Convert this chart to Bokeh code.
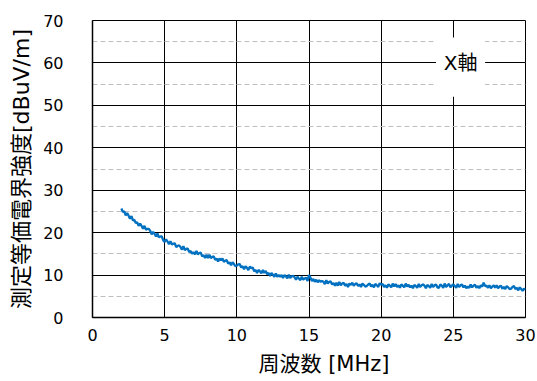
from bokeh.plotting import figure
from bokeh.models import Range1d, SingleIntervalTicker, BoxAnnotation, Label, Title
from bokeh.embed import file_html
from bokeh.resources import INLINE

# ---- data ----
freq_start = 2.0
freq_step = 0.1
level = [
    25.7, 24.9, 25.0, 24.1, 24.6, 24.0, 23.3, 23.9, 22.9, 23.0,
    22.3, 22.4, 21.6, 22.1, 21.6, 20.9, 21.6, 20.7, 20.9, 20.9,
    20.4, 19.6, 20.2, 19.7, 19.1, 19.8, 18.9, 19.1, 19.1, 18.2,
    17.8, 18.4, 17.9, 17.3, 18.0, 17.2, 17.4, 17.5, 16.6, 16.9,
    17.0, 16.6, 16.0, 16.8, 15.9, 16.2, 16.2, 15.4, 15.7, 15.0,
    15.4, 14.9, 15.7, 14.9, 15.2, 15.3, 14.4, 14.7, 14.0, 14.8,
    14.0, 14.8, 14.0, 14.3, 14.4, 13.6, 13.9, 13.2, 13.9, 13.5,
    13.9, 13.1, 13.4, 13.5, 12.7, 13.0, 12.3, 13.0, 12.6, 12.1,
    12.2, 12.5, 12.6, 11.8, 12.1, 11.4, 12.1, 11.7, 11.2, 12.0,
    11.6, 11.8, 10.9, 11.2, 10.5, 11.2, 10.9, 10.4, 11.2, 10.5,
    11.0, 10.2, 10.5, 9.8, 10.5, 10.1, 9.6, 10.4, 9.6, 10.0,
    9.6, 10.0, 9.3, 10.0, 9.7, 9.2, 10.1, 9.3, 9.7, 9.8,
    9.5, 8.9, 9.6, 9.2, 8.8, 9.6, 8.9, 9.2, 9.4, 8.6,
    10.0, 9.4, 8.6, 9.1, 8.4, 8.9, 8.3, 8.8, 8.4, 8.6,
    8.4, 7.9, 8.8, 8.0, 8.4, 8.5, 7.8, 8.1, 7.5, 8.2,
    7.5, 8.4, 7.6, 8.0, 8.2, 7.5, 7.9, 7.2, 8.0, 7.7,
    8.2, 7.5, 7.9, 8.1, 7.4, 7.8, 7.2, 8.0, 7.7, 7.3,
    7.4, 7.8, 8.0, 7.3, 7.7, 7.1, 7.9, 7.6, 7.2, 8.1,
    7.7, 7.9, 7.2, 7.6, 7.0, 7.8, 7.5, 7.1, 8.0, 7.3,
    7.9, 7.2, 7.6, 7.0, 7.8, 7.5, 7.1, 8.0, 7.3, 7.7,
    7.1, 7.5, 6.9, 7.7, 7.4, 7.0, 7.9, 7.2, 7.6, 7.8,
    7.5, 6.9, 7.7, 7.4, 7.0, 7.9, 7.2, 7.6, 7.8, 7.1,
    7.0, 7.8, 7.5, 7.0, 8.0, 7.2, 7.6, 7.9, 7.1, 7.5,
    7.8, 7.4, 7.0, 7.9, 7.2, 7.6, 7.8, 7.1, 7.5, 6.9,
    7.3, 7.0, 7.8, 7.1, 7.5, 7.7, 7.0, 7.4, 6.9, 7.6,
    7.3, 8.2, 7.4, 7.5, 7.0, 7.6, 6.9, 7.3, 7.6, 7.0,
    7.6, 6.9, 7.3, 7.5, 6.8, 7.2, 6.7, 7.4, 7.1, 6.7,
    6.8, 7.2, 7.4, 6.7, 7.0, 6.4, 7.1, 6.7, 6.3, 6.8,
    6.6,
]
freq = [round(freq_start + freq_step * i, 1) for i in range(len(level))]
series_name = "X軸"
x_label = "周波数 [MHz]"
y_label = "測定等価電界強度[dBuV/m]"

FONT = "DejaVu Sans, Noto Sans CJK JP"

p = figure(width=537, height=381, output_backend="svg", toolbar_location=None,
           x_range=Range1d(0, 30), y_range=Range1d(0, 70),
           min_border_left=92, min_border_right=12, min_border_top=20,
           min_border_bottom=63)
p.background_fill_color = "white"
p.border_fill_color = "white"
p.outline_line_color = "black"
p.outline_line_width = 1

p.xaxis.ticker = SingleIntervalTicker(interval=5, num_minor_ticks=0)
p.yaxis.ticker = SingleIntervalTicker(interval=10, num_minor_ticks=2)

for ax in (p.xaxis[0], p.yaxis[0]):
    ax.major_tick_line_color = None
    ax.minor_tick_line_color = None
    ax.major_tick_out = 0
    ax.major_tick_in = 0
    ax.minor_tick_out = 0
    ax.minor_tick_in = 0
    ax.axis_line_color = "black"
    ax.axis_line_width = 1.5
    ax.major_label_text_font = FONT
    ax.major_label_text_font_size = "16px"
    ax.major_label_text_color = "black"

p.xaxis.major_label_standoff = 11
p.yaxis.major_label_standoff = 29

p.yaxis.axis_label = y_label
p.yaxis.axis_label_text_font = FONT
p.yaxis.axis_label_text_font_style = "normal"
p.yaxis.axis_label_text_font_size = "22px"
p.yaxis.axis_label_text_color = "black"
p.yaxis.axis_label_standoff = 6

# x title, shifted right as in the reference
p.add_layout(Title(text=x_label, align="left", offset=166, text_font=FONT,
                   text_font_size="21px", text_font_style="normal",
                   text_color="black", standoff=12), "below")

p.xgrid.grid_line_color = "black"
p.xgrid.grid_line_width = 1
p.ygrid.grid_line_color = "black"
p.ygrid.grid_line_width = 1
p.ygrid.minor_grid_line_color = "#BFBFBF"
p.ygrid.minor_grid_line_dash = "5 3"
p.ygrid.minor_grid_line_width = 1

p.line(freq, level, line_color="#0070C0", line_width=2.3)

box = BoxAnnotation(left=23.8, right=27.2, bottom=52.0, top=66.0,
                    fill_color="white", fill_alpha=1.0, line_color=None)
p.add_layout(box)
p.add_layout(Label(x=25.5, y=60.0, text=series_name, text_align="center",
                   text_baseline="middle", text_font=FONT,
                   text_font_size="20px", text_color="black"))

open("out.html", "w").write(file_html(p, INLINE))
